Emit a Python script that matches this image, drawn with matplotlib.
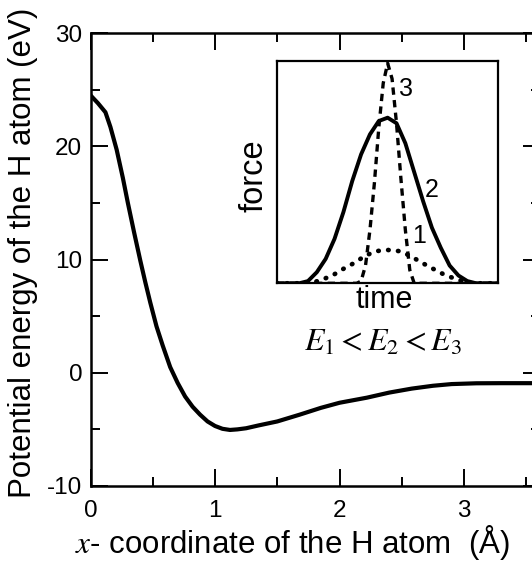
import matplotlib
matplotlib.use("Agg")
import matplotlib.pyplot as plt
from matplotlib.ticker import MultipleLocator

plt.rcParams['font.family'] = ['Liberation Sans', 'DejaVu Sans']
plt.rcParams['mathtext.fontset'] = 'stix'
plt.rcParams['axes.unicode_minus'] = False

# Main curve: potential energy vs x-coordinate
x_coord = [0.0, 0.06, 0.12, 0.16, 0.21, 0.26, 0.30, 0.35, 0.40, 0.44, 0.48, 0.53, 0.58,
           0.64, 0.70, 0.76, 0.82, 0.88, 0.94, 1.00, 1.06, 1.12, 1.18, 1.25, 1.35, 1.50,
           1.68, 1.85, 2.00, 2.22, 2.40, 2.58, 2.75, 2.90, 3.10, 3.30, 3.65]
energy = [24.5, 23.8, 23.0, 21.7, 19.7, 17.2, 15.0, 12.4, 9.9, 8.0, 6.2, 4.1, 2.4,
          0.5, -0.9, -2.1, -3.0, -3.7, -4.3, -4.7, -4.95, -5.05, -5.0, -4.9, -4.65, -4.3,
          -3.7, -3.1, -2.65, -2.2, -1.75, -1.4, -1.15, -1.0, -0.93, -0.92, -0.92]

# Inset: force vs time
t2 = [0, 0.10, 0.14, 0.18, 0.22, 0.26, 0.30, 0.34, 0.38, 0.42, 0.46, 0.50, 0.54, 0.58,
      0.62, 0.66, 0.70, 0.74, 0.78, 0.82, 0.86, 0.90, 1.0]
f2 = [0, 0, 0.01, 0.05, 0.11, 0.2, 0.32, 0.46, 0.58, 0.67, 0.73, 0.745, 0.72, 0.63,
      0.5, 0.37, 0.25, 0.16, 0.08, 0.035, 0.01, 0, 0]
t3 = [0, 0.36, 0.38, 0.40, 0.42, 0.44, 0.46, 0.48, 0.50, 0.52, 0.54, 0.56, 0.58, 0.60,
      0.62, 0.64, 1.0]
f3 = [0, 0, 0.01, 0.08, 0.24, 0.45, 0.7, 0.9, 0.99, 0.92, 0.72, 0.47, 0.24, 0.06,
      0.0, 0, 0]
t1 = [0, 0.15, 0.20, 0.25, 0.30, 0.35, 0.40, 0.45, 0.50, 0.55, 0.60, 0.65, 0.70, 0.75,
      0.80, 0.87, 1.0]
f1 = [0, 0, 0.015, 0.035, 0.065, 0.092, 0.125, 0.145, 0.15, 0.145, 0.125, 0.095, 0.068,
      0.042, 0.022, 0, 0]

W, H = 532, 561
fig = plt.figure(figsize=(W / 100, H / 100), dpi=100)

def fx(px):
    return px / W

def fy(py):
    return 1 - py / H

ax = fig.add_axes([fx(90.5), fy(486), fx(540) - fx(90.5), fy(33) - fy(486)])
ax.plot(x_coord, energy, color='black', lw=3.0, solid_capstyle='round')
ax.set_xlim(0, 3.61)
ax.set_ylim(-10, 30)
ax.xaxis.set_major_locator(MultipleLocator(1))
ax.xaxis.set_minor_locator(MultipleLocator(0.5))
ax.yaxis.set_major_locator(MultipleLocator(10))
ax.yaxis.set_minor_locator(MultipleLocator(5))
for s in ax.spines.values():
    s.set_linewidth(1.8)
ax.tick_params(which='both', direction='in', top=True, right=True, width=1.4)
ax.tick_params(which='major', length=12)
ax.tick_params(which='minor', length=6.5)
ax.tick_params(axis='x', which='major', pad=10, labelsize=17.5)
ax.tick_params(axis='y', which='major', pad=6, labelsize=17.5)

fig.text(fx(23), fy(253), 'Potential energy of the H atom (eV)', rotation=90,
         ha='center', va='center', fontsize=22.5)
fig.text(fx(293), fy(543), '$x$- coordinate of the H atom  (Å)',
         ha='center', va='center', fontsize=22.5)

# Inset
ins = fig.add_axes([fx(277), fy(283.3), fx(498.3) - fx(277), fy(61) - fy(283.3)])
ins.plot(t2, f2, color='black', lw=2.8)
ins.plot(t3, f3, color='black', lw=2.4, linestyle=(0, (2.2, 1.6)))
ins.plot(t1, f1, color='black', lw=3.4, linestyle=(0, (0.1, 2.0)),
         dash_capstyle='round')
ins.set_xlim(0, 1)
ins.set_ylim(0, 1.0)
ins.set_xticks([])
ins.set_yticks([])
for s in ins.spines.values():
    s.set_linewidth(1.6)
ins.text(0.585, 0.875, '3', transform=ins.transAxes, ha='center', va='center', fontsize=18)
ins.text(0.70, 0.42, '2', transform=ins.transAxes, ha='center', va='center', fontsize=18)
ins.text(0.64, 0.215, '1', transform=ins.transAxes, ha='center', va='center', fontsize=18)

fig.text(fx(254), fy(176), 'force', rotation=90, ha='center', va='center', fontsize=23.5)
fig.text(fx(384), fy(300), 'time', ha='center', va='center', fontsize=22)
fig.text(fx(383), fy(343), '$E_1 < E_2 < E_3$', ha='center', va='center', fontsize=23)

fig.savefig('out.png', dpi=100)
